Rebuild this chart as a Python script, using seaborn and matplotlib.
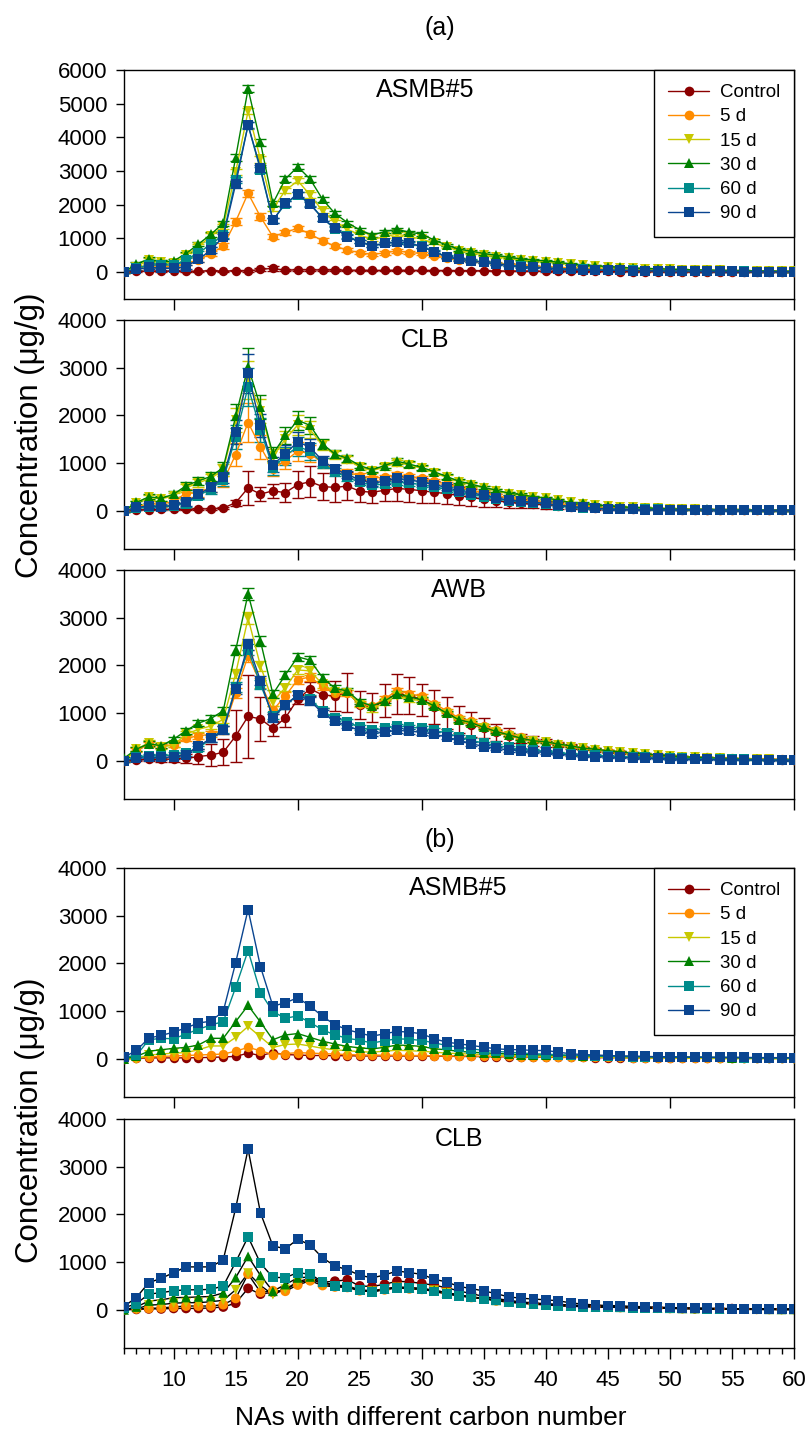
import matplotlib
matplotlib.use("Agg")
import pandas as pd
import matplotlib.pyplot as plt
import seaborn as sns
from matplotlib.lines import Line2D
from matplotlib.ticker import MultipleLocator

# carbon numbers on the x axis
carbon = list(range(6, 61))
series_names = ["Control", "5 d", "15 d", "30 d", "60 d", "90 d"]
colors = ["#8b0000", "#ff8c00", "#c8c800", "#008000", "#008b8b", "#0a4590"]
markers = ["o", "o", "v", "^", "s", "s"]

# ---- (a) ASMB#5 ----
a1_ctrl = [0, 20, 30, 25, 30, 20, 30, 40, 30, 40, 30, 80, 110, 50, 70,
           65, 60, 60, 55, 55, 50, 50, 55, 50, 50, 45, 45, 40, 40, 35,
           35, 30, 30, 30, 25, 25, 25, 20, 20, 20, 15, 15, 15, 15, 10,
           10, 10, 10, 10, 10, 5, 5, 5, 5, 5]
a1_5d = [0, 110, 190, 160, 160, 260, 360, 550, 770, 1500, 2340, 1640, 1050, 1180, 1300,
         1130, 930, 770, 650, 580, 520, 570, 630, 580, 550, 480, 420, 370, 330, 290,
         260, 230, 200, 180, 160, 140, 120, 100, 90, 80, 70, 60, 55, 50, 45,
         40, 35, 30, 30, 25, 25, 20, 20, 15, 15]
a1_15d = [0, 160, 360, 310, 260, 500, 750, 1070, 1350, 2970, 4780, 3350, 1890, 2420, 2710,
          2290, 1820, 1480, 1270, 1100, 970, 1050, 1130, 1050, 980, 860, 740, 640, 580, 510,
          460, 410, 370, 340, 310, 270, 230, 200, 180, 150, 130, 115, 100, 90, 80,
          70, 60, 55, 50, 45, 40, 35, 30, 25, 20]
a1_30d = [0, 240, 390, 300, 330, 550, 830, 1120, 1450, 3400, 5440, 3850, 2040, 2760, 3130,
          2760, 2160, 1740, 1470, 1250, 1100, 1200, 1270, 1180, 1130, 950, 800, 680, 620, 550,
          500, 440, 390, 360, 330, 290, 240, 210, 190, 160, 140, 120, 105, 95, 85,
          75, 65, 60, 50, 45, 40, 35, 30, 25, 20]
a1_60d = [0, 110, 210, 210, 210, 360, 570, 820, 1100, 2730, 4360, 3030, 1540, 2020, 2290,
          2030, 1600, 1280, 1070, 900, 780, 850, 900, 850, 760, 610, 460, 390, 340, 300,
          250, 210, 170, 150, 130, 100, 90, 80, 70, 60, 55, 50, 45, 40, 35,
          30, 30, 25, 25, 20, 20, 15, 15, 15, 10]
a1_90d = [0, 80, 140, 110, 110, 160, 380, 650, 1050, 2610, 4370, 3080, 1540, 2040, 2310,
          2010, 1600, 1300, 1050, 900, 780, 850, 890, 870, 750, 600, 450, 380, 330, 290,
          240, 200, 160, 140, 120, 90, 80, 70, 60, 55, 50, 45, 40, 35, 30,
          30, 25, 25, 20, 20, 15, 15, 15, 10, 10]
a1_ctrl_err = [0, 10, 10, 10, 10, 10, 15, 15, 15, 20, 20, 40, 80, 30, 30,
               25, 25, 20, 20, 20, 20, 20, 20, 20, 20, 15, 15, 15, 15, 15,
               10, 10, 10, 10, 10, 10, 10, 10, 10, 10, 5, 5, 5, 5, 5,
               5, 5, 5, 5, 5, 5, 5, 5, 5, 5]
a1_trt_err = [20, 50, 60, 50, 50, 60, 70, 80, 80, 100, 100, 100, 80, 80, 80,
              80, 70, 60, 60, 50, 50, 50, 50, 50, 50, 40, 40, 40, 40, 35,
              30, 30, 30, 30, 25, 25, 20, 20, 20, 20, 15, 15, 15, 15, 15,
              10, 10, 10, 10, 10, 10, 10, 10, 10, 10]

# ---- (a) CLB ----
a2_ctrl = [0, 20, 20, 30, 30, 30, 40, 40, 60, 170, 480, 350, 420, 380, 550,
           610, 510, 490, 520, 410, 390, 430, 470, 450, 420, 390, 360, 320, 280, 240,
           210, 180, 155, 140, 125, 110, 90, 75, 65, 55, 50, 45, 40, 35, 30,
           25, 25, 20, 20, 15, 15, 15, 10, 10, 10]
a2_5d = [0, 80, 150, 140, 200, 370, 370, 500, 620, 1180, 1850, 1340, 880, 1050, 1250,
         1200, 1000, 880, 800, 740, 690, 700, 760, 720, 680, 620, 560, 490, 430, 380,
         320, 270, 230, 200, 170, 140, 110, 90, 75, 60, 55, 50, 45, 40, 35,
         30, 30, 25, 25, 20, 20, 15, 15, 10, 10]
a2_15d = [0, 170, 280, 250, 320, 480, 590, 680, 860, 1900, 2750, 2100, 1150, 1500, 1800,
          1700, 1380, 1170, 1070, 920, 840, 920, 1010, 960, 890, 800, 700, 610, 550, 480,
          420, 360, 330, 290, 260, 220, 175, 150, 120, 100, 85, 70, 60, 50, 40,
          35, 30, 25, 25, 20, 20, 15, 15, 10, 10]
a2_30d = [0, 175, 295, 260, 350, 525, 630, 720, 910, 1980, 3020, 2180, 1190, 1580, 1900,
          1790, 1400, 1190, 1100, 950, 860, 950, 1040, 980, 910, 820, 720, 620, 560, 490,
          435, 370, 340, 295, 270, 225, 175, 155, 125, 105, 85, 70, 60, 50, 40,
          35, 30, 30, 25, 20, 20, 15, 15, 10, 10]
a2_60d = [0, 50, 80, 70, 100, 150, 320, 460, 650, 1550, 2600, 1700, 900, 1150, 1350,
          1250, 1000, 820, 700, 600, 540, 560, 600, 580, 550, 500, 450, 390, 340, 300,
          250, 210, 185, 165, 145, 110, 85, 65, 55, 45, 40, 35, 30, 28, 25,
          22, 20, 18, 15, 15, 12, 10, 10, 10, 10]
a2_90d = [0, 70, 105, 85, 120, 175, 350, 490, 700, 1650, 2880, 1790, 970, 1190, 1450,
          1330, 1050, 880, 760, 650, 580, 620, 680, 650, 600, 550, 490, 420, 370, 330,
          270, 225, 200, 180, 155, 120, 90, 70, 55, 35, 30, 30, 25, 25, 20,
          20, 20, 15, 15, 15, 10, 10, 10, 10, 10]
a2_ctrl_err = [0, 10, 10, 15, 15, 15, 20, 20, 30, 60, 350, 150, 150, 200, 280,
               330, 280, 300, 300, 230, 220, 230, 260, 260, 260, 230, 210, 190, 170, 150,
               140, 120, 100, 90, 80, 65, 55, 45, 40, 35, 30, 25, 20, 20, 15,
               15, 10, 10, 10, 10, 5, 5, 5, 5, 5]
a2_trt_err = [20, 40, 50, 50, 60, 80, 80, 100, 120, 250, 400, 250, 150, 180, 200,
              180, 100, 80, 70, 60, 50, 60, 60, 60, 50, 50, 45, 40, 40, 35,
              30, 30, 30, 25, 25, 20, 20, 20, 15, 15, 15, 10, 10, 10, 10,
              10, 10, 10, 10, 10, 10, 10, 10, 10, 10]

# ---- (a) AWB ----
a3_ctrl = [0, 20, 30, 30, 40, 50, 90, 120, 180, 520, 930, 880, 680, 900, 1290,
           1510, 1380, 1360, 1440, 1170, 1120, 1260, 1410, 1370, 1280, 1130, 1000, 860, 760, 680,
           600, 530, 470, 420, 380, 340, 300, 260, 230, 200, 175, 150, 130, 115, 100,
           85, 75, 65, 55, 48, 42, 36, 30, 26, 22]
a3_5d = [0, 230, 350, 310, 340, 480, 520, 560, 640, 1420, 2200, 1630, 1060, 1360, 1700,
         1760, 1560, 1420, 1420, 1200, 1150, 1300, 1470, 1410, 1350, 1200, 1050, 900, 830, 730,
         640, 560, 490, 430, 400, 350, 310, 270, 240, 210, 185, 160, 140, 125, 105,
         90, 80, 70, 60, 50, 45, 40, 35, 30, 25]
a3_15d = [0, 240, 380, 290, 330, 560, 660, 730, 870, 1830, 2990, 1990, 1235, 1535, 1905,
          1885, 1605, 1450, 1430, 1180, 1080, 1220, 1360, 1290, 1260, 1120, 980, 840, 780, 680,
          600, 530, 460, 410, 390, 340, 300, 260, 235, 205, 180, 155, 135, 120, 100,
          85, 75, 65, 55, 48, 42, 36, 30, 26, 22]
a3_30d = [55, 245, 360, 315, 455, 630, 790, 885, 1050, 2320, 3500, 2510, 1400, 1800, 2180,
          2110, 1745, 1520, 1465, 1240, 1150, 1255, 1410, 1340, 1280, 1150, 1000, 860, 800, 700,
          615, 545, 475, 420, 400, 350, 315, 265, 245, 210, 190, 160, 140, 125, 105,
          85, 75, 65, 55, 45, 35, 30, 25, 20, 15]
a3_60d = [0, 80, 100, 100, 130, 170, 260, 470, 660, 1550, 2330, 1600, 950, 1170, 1380,
          1300, 1040, 900, 820, 700, 640, 680, 730, 710, 680, 640, 580, 500, 430, 370,
          320, 280, 240, 220, 200, 170, 150, 130, 115, 100, 90, 80, 70, 60, 55,
          50, 45, 40, 35, 30, 28, 25, 22, 20, 18]
a3_90d = [0, 50, 70, 70, 80, 130, 310, 470, 640, 1510, 2440, 1680, 900, 1170, 1380,
          1260, 1000, 830, 740, 630, 570, 600, 640, 620, 600, 560, 500, 430, 360, 300,
          265, 225, 210, 195, 175, 140, 120, 105, 90, 77, 70, 60, 55, 50, 40,
          35, 30, 28, 25, 22, 20, 18, 15, 12, 10]
a3_ctrl_err = [0, 20, 30, 50, 60, 100, 150, 230, 270, 550, 870, 460, 150, 200, 100,
               150, 280, 310, 410, 300, 310, 345, 420, 390, 340, 350, 330, 280, 260, 210,
               180, 150, 100, 100, 80, 60, 50, 40, 35, 30, 25, 20, 20, 15, 15,
               10, 10, 10, 10, 10, 5, 5, 5, 5, 5]
a3_trt_err = [20, 40, 50, 50, 50, 60, 60, 70, 80, 100, 120, 100, 80, 80, 80,
              80, 70, 60, 60, 50, 50, 50, 50, 50, 50, 40, 40, 40, 40, 35,
              30, 30, 30, 30, 25, 25, 20, 20, 20, 20, 15, 15, 15, 15, 15,
              10, 10, 10, 10, 10, 10, 10, 10, 10, 10]

# ---- (b) ASMB#5 ----
b1_ctrl = [0, 10, 20, 20, 20, 20, 25, 30, 40, 50, 120, 70, 130, 90, 80,
           70, 70, 65, 65, 60, 60, 60, 60, 60, 60, 55, 55, 50, 50, 45,
           45, 40, 40, 35, 35, 30, 30, 30, 25, 25, 25, 20, 20, 20, 20,
           15, 15, 15, 15, 15, 10, 10, 10, 10, 10]
b1_5d = [0, 20, 40, 50, 60, 70, 80, 90, 100, 160, 240, 170, 90, 110, 130,
         120, 110, 100, 90, 80, 80, 75, 75, 70, 70, 65, 60, 60, 55, 55,
         50, 50, 45, 45, 40, 40, 35, 35, 30, 30, 30, 25, 25, 25, 20,
         20, 20, 20, 15, 15, 15, 15, 10, 10, 10]
b1_15d = [0, 0, 80, 100, 120, 130, 190, 270, 270, 450, 680, 460, 240, 300, 310,
          270, 220, 190, 170, 150, 140, 160, 180, 170, 160, 140, 120, 110, 100, 90,
          80, 70, 65, 60, 55, 50, 45, 40, 35, 30, 25, 20, 20, 15, 15,
          10, 10, 10, 5, 5, 5, 5, 0, 0, 0]
b1_30d = [0, 50, 160, 190, 220, 240, 290, 430, 430, 780, 1120, 770, 400, 500, 530,
          450, 370, 310, 260, 230, 210, 240, 290, 280, 260, 210, 190, 155, 140, 125,
          115, 100, 90, 85, 80, 75, 70, 65, 60, 55, 50, 45, 45, 40, 40,
          35, 35, 30, 30, 25, 25, 20, 20, 20, 15]
b1_60d = [35, 70, 400, 430, 420, 520, 620, 710, 780, 1500, 2270, 1390, 990, 850, 900,
          760, 610, 500, 430, 390, 330, 380, 420, 410, 385, 335, 280, 245, 210, 175,
          155, 140, 125, 105, 100, 85, 75, 70, 60, 55, 50, 45, 45, 40, 40,
          35, 35, 30, 30, 30, 25, 25, 25, 20, 20]
b1_90d = [35, 175, 435, 490, 560, 650, 750, 790, 995, 2015, 3130, 1930, 1105, 1175, 1280,
          1105, 890, 715, 610, 540, 475, 525, 575, 560, 525, 420, 350, 315, 280, 245,
          210, 195, 190, 175, 175, 140, 105, 90, 80, 70, 60, 60, 50, 45, 40,
          40, 35, 35, 30, 30, 30, 25, 25, 25, 25]

# ---- (b) CLB ----
b2_ctrl = [0, 10, 20, 20, 30, 30, 30, 40, 60, 140, 450, 330, 370, 420, 565,
           630, 580, 600, 630, 500, 490, 535, 600, 585, 555, 515, 465, 395, 340, 280,
           235, 200, 165, 145, 130, 115, 100, 90, 80, 70, 60, 55, 50, 45, 40,
           35, 30, 30, 25, 25, 20, 20, 15, 15, 15]
b2_5d = [0, 20, 30, 40, 60, 80, 80, 80, 110, 240, 750, 370, 400, 390, 520,
         610, 510, 480, 470, 400, 380, 420, 460, 440, 430, 400, 350, 300, 260, 230,
         190, 160, 140, 120, 105, 90, 80, 70, 60, 55, 50, 45, 40, 35, 30,
         28, 25, 22, 20, 18, 15, 12, 10, 10, 8]
b2_15d = [0, 20, 100, 110, 140, 150, 150, 170, 200, 420, 770, 510, 320, 430, 590,
          660, 540, 500, 480, 410, 390, 430, 470, 450, 440, 410, 360, 310, 270, 240,
          200, 170, 150, 130, 110, 95, 85, 75, 65, 60, 50, 45, 40, 35, 30,
          25, 20, 15, 15, 10, 10, 5, 5, 0, 0]
b2_30d = [0, 60, 185, 210, 255, 260, 270, 280, 355, 675, 1120, 720, 390, 530, 670,
          690, 580, 520, 500, 420, 400, 440, 480, 470, 450, 410, 360, 310, 270, 240,
          200, 170, 150, 130, 115, 100, 90, 80, 70, 65, 55, 50, 45, 40, 35,
          30, 28, 25, 22, 20, 18, 15, 12, 10, 10]
b2_60d = [40, 130, 330, 360, 400, 420, 420, 430, 500, 1000, 1530, 975, 680, 675, 780,
          745, 590, 500, 485, 410, 375, 430, 465, 450, 430, 385, 330, 290, 260, 235,
          200, 165, 140, 120, 105, 85, 75, 65, 60, 55, 50, 45, 40, 35, 35,
          30, 30, 25, 25, 20, 20, 15, 15, 10, 10]
b2_90d = [70, 260, 570, 660, 780, 900, 900, 900, 1050, 2130, 3370, 2030, 1340, 1280, 1480,
          1360, 1090, 920, 840, 725, 670, 730, 815, 780, 745, 640, 585, 490, 445, 395,
          340, 270, 245, 225, 210, 190, 145, 120, 100, 90, 85, 70, 65, 55, 50,
          40, 35, 30, 30, 25, 20, 20, 20, 15, 10]

W, H = 807, 1442


def fx(px):
    return px / W


def fy(py):
    return 1 - py / H


def long_frame(values):
    rows = []
    for name, vals in zip(series_names, values):
        for c, v in zip(carbon, vals):
            rows.append({"carbon": c, "conc": v, "series": name})
    return pd.DataFrame(rows)


def draw_panel(ax, values, ymax, ctrl_err=None, trt_err=None, black_lines=False):
    df = long_frame(values)
    pal = dict(zip(series_names, colors))
    mk = dict(zip(series_names, markers))
    if ctrl_err is not None:
        for i, (name, vals) in enumerate(zip(series_names, values)):
            err = ctrl_err if i == 0 else trt_err
            ax.errorbar(carbon, vals, yerr=err, fmt="none", ecolor=colors[i],
                        elinewidth=1, capsize=4, capthick=1, zorder=2)
    if black_lines:
        sns.lineplot(data=df, x="carbon", y="conc", units="series", estimator=None,
                     color="black", lw=1, ax=ax, legend=False, zorder=2)
        sns.scatterplot(data=df, x="carbon", y="conc", hue="series", style="series",
                        palette=pal, markers=mk, s=50, linewidth=0, ax=ax,
                        legend=False, zorder=3)
    else:
        sns.lineplot(data=df, x="carbon", y="conc", hue="series", style="series",
                     palette=pal, markers=mk, dashes=False, markersize=6.8,
                     markeredgewidth=0, lw=1, ax=ax, legend=False, zorder=3)
    ax.set_xlim(6, 60)
    ax.set_ylim(-800, ymax)
    ax.yaxis.set_major_locator(MultipleLocator(1000))
    ax.set_xlabel("")
    ax.set_ylabel("")
    ax.tick_params(axis="both", direction="out", labelsize=16, width=1,
                   color="black", labelcolor="black")
    ax.tick_params(axis="y", length=6, pad=6)
    ax.tick_params(axis="x", length=8, pad=8)
    for sp in ax.spines.values():
        sp.set_visible(True)
        sp.set_color("black")
        sp.set_linewidth(1)


def add_legend(ax):
    handles = [Line2D([0], [0], color=c, marker=m, markersize=7, markeredgewidth=0, lw=1)
               for c, m in zip(colors, markers)]
    leg = ax.legend(handles, series_names, loc="upper right", bbox_to_anchor=(1.0, 1.0),
                    borderaxespad=0, frameon=True, fancybox=False, edgecolor="black",
                    fontsize=13.5, handlelength=2.2, handletextpad=0.55, labelspacing=0.38,
                    borderpad=0.75)
    leg.get_frame().set_linewidth(1)
    leg.get_frame().set_alpha(1)
    for t in leg.get_texts():
        t.set_color("black")


sns.set_style("ticks")
plt.rcParams["font.family"] = ["Liberation Sans", "DejaVu Sans"]
plt.rcParams["text.color"] = "black"

fig = plt.figure(figsize=(W / 100, H / 100), dpi=100)
left, width = fx(124), (794 - 124) / W
panel_tops = [70, 320, 570, 868, 1119]
axes = []
for top in panel_tops:
    axes.append(fig.add_axes([left, fy(top + 229), width, 229 / H]))

draw_panel(axes[0], [a1_ctrl, a1_5d, a1_15d, a1_30d, a1_60d, a1_90d], 6000, a1_ctrl_err, a1_trt_err)
draw_panel(axes[1], [a2_ctrl, a2_5d, a2_15d, a2_30d, a2_60d, a2_90d], 4000, a2_ctrl_err, a2_trt_err)
draw_panel(axes[2], [a3_ctrl, a3_5d, a3_15d, a3_30d, a3_60d, a3_90d], 4000, a3_ctrl_err, a3_trt_err)
draw_panel(axes[3], [b1_ctrl, b1_5d, b1_15d, b1_30d, b1_60d, b1_90d], 4000)
draw_panel(axes[4], [b2_ctrl, b2_5d, b2_15d, b2_30d, b2_60d, b2_90d], 4000, black_lines=True)

for ax in axes[:4]:
    ax.xaxis.set_major_locator(MultipleLocator(10))
    ax.tick_params(axis="x", labelbottom=False)
axes[4].xaxis.set_major_locator(MultipleLocator(5))
axes[4].xaxis.set_minor_locator(MultipleLocator(1))
axes[4].tick_params(axis="x", which="minor", length=4, width=1, direction="out", color="black")

add_legend(axes[0])
add_legend(axes[3])

panel_labels = [("ASMB#5", 425, 90), ("CLB", 425, 340), ("AWB", 459, 590),
                ("ASMB#5", 458, 888), ("CLB", 459, 1139)]
for text, px, py in panel_labels:
    fig.text(fx(px), fy(py), text, ha="center", va="center", fontsize=18, color="black")

fig.text(fx(440), fy(28), "(a)", ha="center", va="center", fontsize=18, color="black")
fig.text(fx(440), fy(840), "(b)", ha="center", va="center", fontsize=18, color="black")
fig.text(fx(30), fy(435), "Concentration (\u03bcg/g)", rotation=90, ha="center", va="center",
         fontsize=22.5, color="black")
fig.text(fx(30), fy(1120), "Concentration (\u03bcg/g)", rotation=90, ha="center", va="center",
         fontsize=22.5, color="black")
fig.text(fx(431), fy(1418), "NAs with different carbon number", ha="center", va="center",
         fontsize=19, color="black")

fig.savefig("out.png", dpi=100)
